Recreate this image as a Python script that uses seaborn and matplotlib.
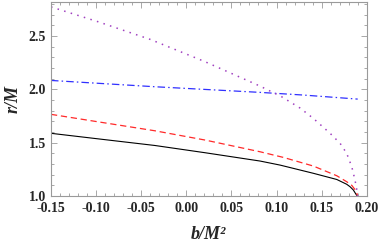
import seaborn as sns
import matplotlib.pyplot as plt
from matplotlib.ticker import MultipleLocator, FormatStrFormatter

# values
b_black = [-0.15, -0.0957, -0.035, 0.0207, 0.0817, 0.1039, 0.1408, 0.1668, 0.1778, 0.1815, 0.1852, 0.1882, 0.1895]
r_black = [1.588, 1.534, 1.474, 1.406, 1.328, 1.290, 1.213, 1.155, 1.110, 1.087, 1.056, 1.015, 1.000]

b_red = [-0.15, -0.0957, -0.035, 0.0207, 0.0817, 0.1076, 0.1408, 0.1668, 0.1778, 0.1834, 0.1870, 0.1893, 0.1898]
r_red = [1.766, 1.693, 1.612, 1.525, 1.415, 1.362, 1.281, 1.190, 1.134, 1.100, 1.060, 1.020, 1.000]

b_blue = [-0.15, -0.035, 0.0817, 0.1297, 0.19]
r_blue = [2.084, 2.025, 1.972, 1.947, 1.909]

b_purple = [-0.15, -0.0976, -0.040, 0.0207, 0.0817, 0.1057, 0.1261, 0.1408, 0.1594,
            0.1705, 0.1778, 0.1834, 0.1870, 0.1894, 0.1898]
r_purple = [2.774, 2.634, 2.469, 2.260, 2.031, 1.931, 1.825, 1.728, 1.588,
            1.494, 1.400, 1.275, 1.150, 1.040, 1.000]

sns.set_theme(style="ticks")
plt.rcParams['font.family'] = ['Liberation Serif', 'DejaVu Serif']
plt.rcParams['font.weight'] = 'bold'

fig = plt.figure(figsize=(3.82, 2.48), dpi=100)
ax = fig.add_axes([0.1335, 0.2097, 0.8265, 0.7823])

sns.lineplot(x=b_black, y=r_black, color='black', lw=0.8, sort=False, ax=ax)
sns.lineplot(x=b_red, y=r_red, color='#ff2a2a', lw=0.9, sort=False, ax=ax, linestyle=(0, (5, 3)))
sns.lineplot(x=b_blue, y=r_blue, color='#3030ff', lw=0.9, sort=False, ax=ax, linestyle=(0, (6, 2.5, 1.2, 2.5)))
sns.lineplot(x=b_purple, y=r_purple, color='#a040c0', lw=1.1, sort=False, ax=ax, linestyle=(0, (1, 3.5)))

ax.set_xlim(-0.15, 0.2)
ax.set_ylim(1.0, 2.82)
ax.xaxis.set_major_locator(MultipleLocator(0.05))
ax.xaxis.set_minor_locator(MultipleLocator(0.01))
ax.yaxis.set_major_locator(MultipleLocator(0.5))
ax.yaxis.set_minor_locator(MultipleLocator(0.1))
ax.xaxis.set_major_formatter(FormatStrFormatter('%.2f'))
ax.yaxis.set_major_formatter(FormatStrFormatter('%.1f'))

for s in ax.spines.values():
    s.set_color('#9a9a9a')
    s.set_linewidth(0.8)
ax.tick_params(which='both', direction='in', top=True, right=True, color='#9a9a9a', width=0.6)
ax.tick_params(which='major', length=4.5, labelsize=10)
ax.tick_params(axis='x', which='major', pad=4.5)
ax.tick_params(axis='y', which='major', pad=3.5)
ax.tick_params(which='minor', length=2.2)

ax.set_xlabel('b/M²', fontsize=13, fontweight='bold', fontstyle='italic', labelpad=7.5)
ax.set_ylabel('r/M', fontsize=13, fontweight='bold', fontstyle='italic', labelpad=5)

fig.savefig('out.png', dpi=100)
